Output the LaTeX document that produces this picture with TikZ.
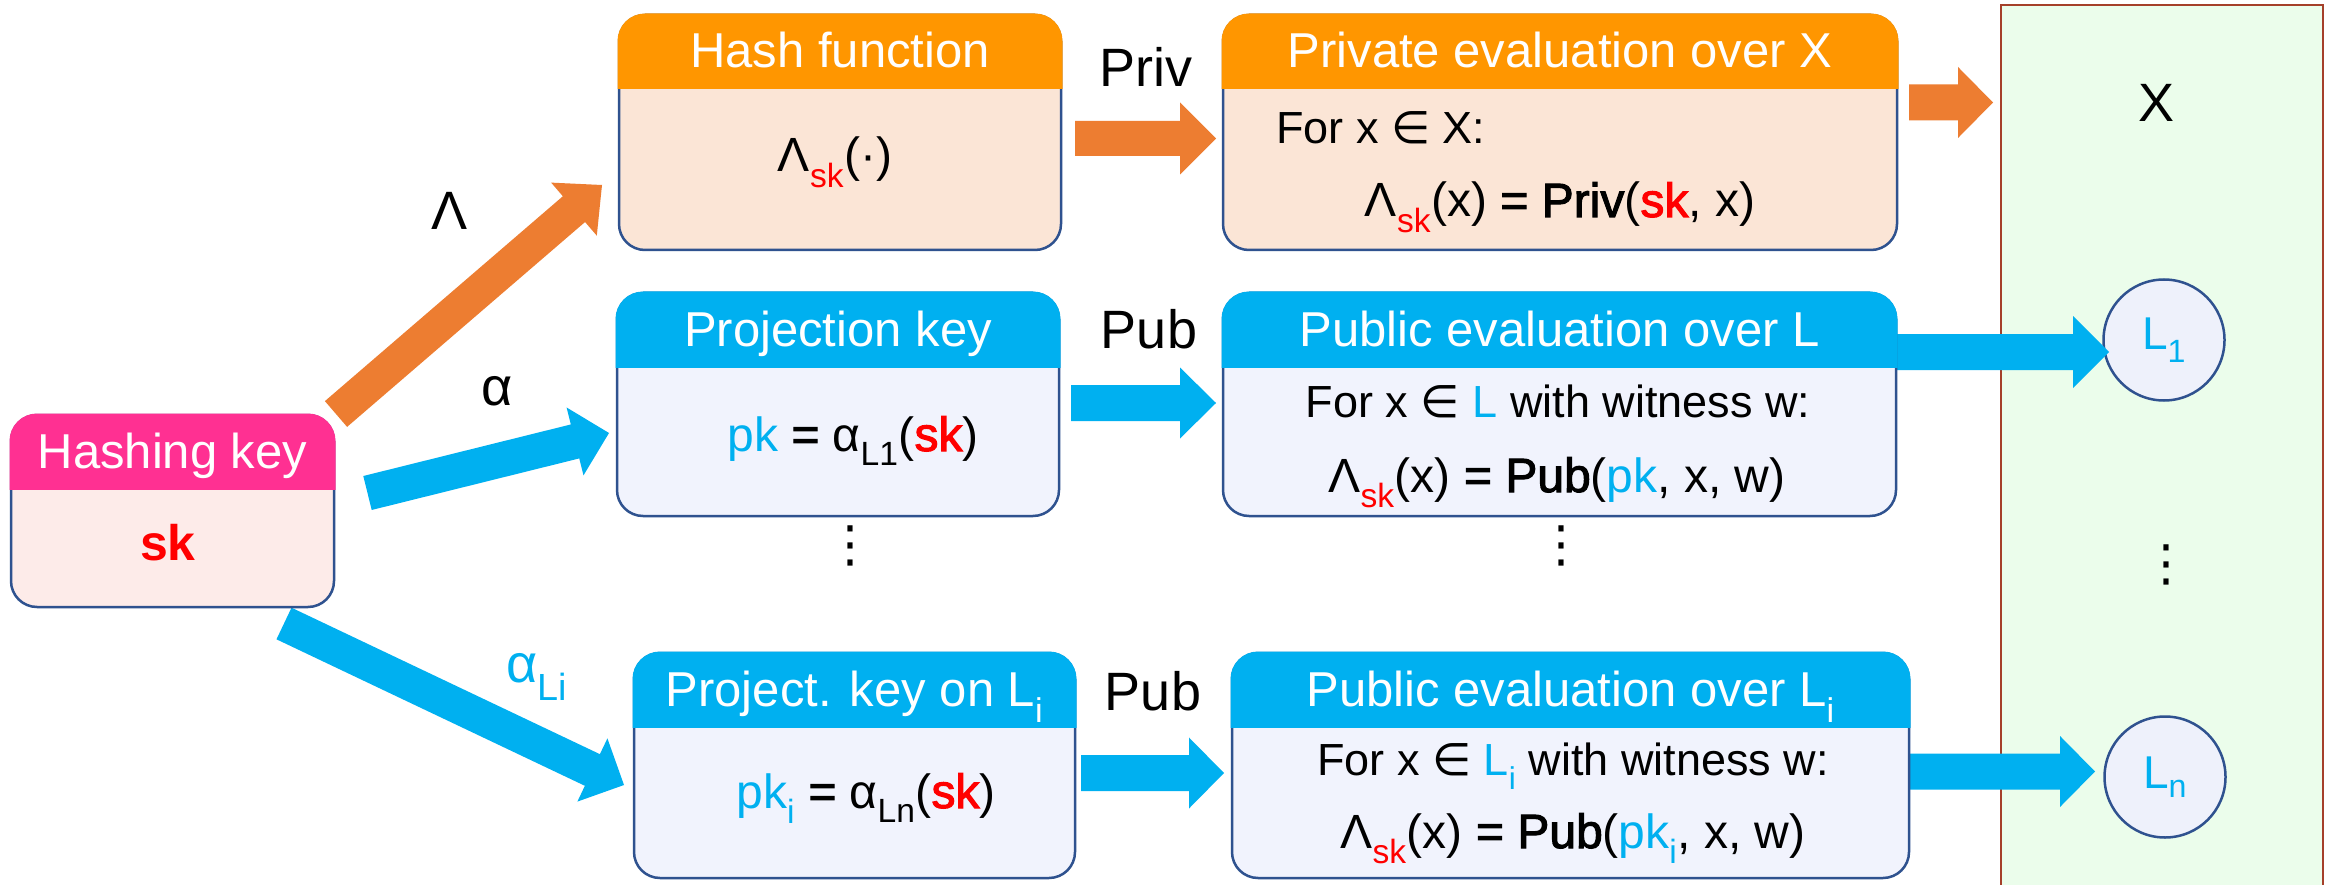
\documentclass[tikz,border=0pt]{standalone}
\usepackage{fontspec}
\setmainfont{Liberation Sans}
\newfontfamily\semib{Liberation Sans}[FakeBold=2.2]
\newfontfamily\symfont{DejaVu Sans}
\usetikzlibrary{calc}

\definecolor{bordc}{HTML}{2F528F}
\definecolor{pinkh}{HTML}{FF3092}
\definecolor{pinkb}{HTML}{FDEBE9}
\definecolor{orgh}{HTML}{FF9600}
\definecolor{orgb}{HTML}{FBE5D6}
\definecolor{orga}{HTML}{ED7D31}
\definecolor{blueh}{HTML}{00B0F0}
\definecolor{blueb}{HTML}{F1F3FD}
\definecolor{keyred}{HTML}{FF0000}
\definecolor{greenf}{HTML}{EBFDEB}
\definecolor{greenb}{HTML}{A5402A}
\definecolor{circf}{HTML}{EEF1FB}

\newcommand\skr{\textcolor{keyred}{sk}}
\newcommand\skb{{\semib\textcolor{keyred}{sk}}}
\newcommand\pkb{\textcolor{blueh}{pk}}
\newcommand\elem{{\symfont ∈}}
\newcommand\sbs[1]{\textsubscript{#1}}
\newcommand\md[1]{{\semib #1}}

% box with a coloured title band: name, x1, y1, x2, y2, y of band bottom, band colour, body colour, title
\newcommand\card[9]{%
  \node[cardbody, fill=#8, minimum width={#4-#2}, minimum height={#5-#3}] (#1) at ({(#2+#4)/2},{(#3+#5)/2}) {};
  \begin{scope}
    \clip (#2-5,#3-5) rectangle (#4+5,#6);
    \fill[#7, rounded corners=27.5pt] (#2-1.5,#3-1.5) rectangle (#4+1.5,#6+60);
  \end{scope}
  \node[hdr] (#1-title) at ({(#2+#4)/2},{(#3+#6)/2+16}) {#9};}

% wide block arrow: start, tip, half shaft, half head, head length, colour
\newcommand\blockarrow[6]{%
  \coordinate (ab) at ($(#2)!#5!(#1)$);
  \fill[#6] ($(#1)!#3!90:(#2)$) -- ($(ab)!#3!90:(#2)$) -- ($(ab)!#4!90:(#2)$) -- (#2)
    -- ($(ab)!#4!-90:(#2)$) -- ($(ab)!#3!-90:(#2)$) -- ($(#1)!#3!-90:(#2)$) -- cycle;}

\tikzset{
  cardbody/.style={rectangle, draw=bordc, line width=2.5pt, rounded corners=26pt, inner sep=0pt},
  hdr/.style={anchor=base, inner sep=0pt, text=white, font=\fontsize{49}{59}\selectfont},
  formula/.style={anchor=base, inner sep=0pt, font=\fontsize{48}{58}\selectfont},
  condtxt/.style={anchor=base, inner sep=0pt, font=\fontsize{45}{54}\selectfont},
  lbl/.style={anchor=base, inner sep=0pt, font=\fontsize{54}{64}\selectfont},
  vdots/.style={inner sep=0pt, font=\symfont\fontsize{50}{50}\selectfont},
  setnode/.style={circle, draw=bordc, fill=circf, line width=2.5pt, minimum size=121pt, inner sep=0pt,
    text=blueh, font=\fontsize{46}{55}\selectfont}
}

\begin{document}
\begin{tikzpicture}[x=1pt,y=-1pt]
\useasboundingbox[fill=white] (0,0) rectangle (2326,885);

% the set X with its languages
\node[draw=greenb, fill=greenf, line width=2pt, minimum width=322pt, minimum height=900pt, inner sep=0pt]
  (xset) at (2162,455) {};
\node[lbl] (xlabel) at (2156,122) {X};
\node[setnode] (l1) at (2164,340) {L\sbs{1}};
\node[setnode] (ln) at (2165,777) {L\sbs{n}};
\node[vdots] (dx) at (2166,565) {⋮};

% arrow end points
\coordinate (hk-a) at (336,414);   \coordinate (hf-in) at (602,185);
\coordinate (hk-b) at (367.5,493); \coordinate (pk-in) at (609,433);
\coordinate (hk-c) at (284,623.5); \coordinate (pki-in) at (624,785);
\coordinate (hf-out) at (1075,138.5); \coordinate (pe-in) at (1216,138.5);
\coordinate (pe-out) at (1909,102.5); \coordinate (x-in) at (1993,102.5);
\coordinate (pk-out) at (1071,403);   \coordinate (pu-in) at (1216,403);
\coordinate (pu-out) at (1897,352);   \coordinate (l1-in) at (2109,352);
\coordinate (pki-out) at (1081,773);  \coordinate (pui-in) at (1224,773);
\coordinate (pui-out) at (1902,771.5); \coordinate (ln-in) at (2095,771.5);

\blockarrow{hk-a}{hf-in}{17pt}{35pt}{37pt}{orga}
\blockarrow{hk-b}{pk-in}{17.5pt}{35pt}{35pt}{blueh}
\blockarrow{hk-c}{pki-in}{17.5pt}{35pt}{35pt}{blueh}
\blockarrow{hf-out}{pe-in}{17.5pt}{36pt}{36pt}{orga}
\blockarrow{pe-out}{x-in}{18pt}{35.5pt}{35pt}{orga}
\blockarrow{pk-out}{pu-in}{18pt}{35.5pt}{36pt}{blueh}
\blockarrow{pu-out}{l1-in}{18pt}{36pt}{36pt}{blueh}
\blockarrow{pki-out}{pui-in}{18pt}{35.5pt}{35pt}{blueh}
\blockarrow{pui-out}{ln-in}{18pt}{35.5pt}{35pt}{blueh}

% arrow labels
\node[lbl] (lam) at (450,230) {Λ};
\node[lbl] (alp) at (497,405) {α};
\node[lbl, text=blueh] (alpi) at (537,682) {α\sbs{Li}};
\node[lbl] (priv) at (1146,87) {Priv};
\node[lbl] (pub1) at (1149,348) {Pub};
\node[lbl] (pub2) at (1153,710) {Pub};

% boxes
\card{hk}{11}{415}{334}{607}{489}{pinkh}{pinkb}{Hashing key}
\card{hf}{619}{15}{1061}{250}{89}{orgh}{orgb}{Hash function}
\card{pe}{1223}{15}{1897}{250}{89}{orgh}{orgb}{Private evaluation over X}
\card{pk}{617}{293}{1059}{516}{367}{blueh}{blueb}{Projection key}
\card{pu}{1223}{293}{1896}{516}{367}{blueh}{blueb}{Public evaluation over L}
\card{pki}{634}{653}{1075}{878}{727}{blueh}{blueb}{Project. key on L\sbs{i}}
\card{pui}{1232}{653}{1909}{878}{727}{blueh}{blueb}{Public evaluation over L\sbs{i}}

% box contents
\node[formula, font=\fontsize{50}{60}\selectfont\bfseries, text=keyred] (hk-sk) at (168,560) {sk};
\node[formula] (hf-f) at (835,172) {Λ\sbs{\skr}(·)};
\node[condtxt, anchor=base west] (pe-c) at (1276,144) {For x \elem{} X:};
\node[formula] (pe-f) at (1560,217) {Λ\sbs{\skr}(x) \md{= Priv}(\skb, x)};
\node[formula] (pk-f) at (853,451) {\pkb{} \md{=} α\sbs{L1}(\skb)};
\node[condtxt] (pu-c) at (1558,417) {For x \elem{} \textcolor{blueh}{L} with witness w:};
\node[formula] (pu-f) at (1557,492) {Λ\sbs{\skr}(x) \md{= Pub}(\pkb, x, w)};
\node[formula] (pki-f) at (866,808) {\pkb\textcolor{blueh}{\sbs{i}} \md{=} α\sbs{Ln}(\skb)};
\node[condtxt] (pui-c) at (1573,775) {For x \elem{} \textcolor{blueh}{L\sbs{i}} with witness w:};
\node[formula] (pui-f) at (1573,848) {Λ\sbs{\skr}(x) \md{= Pub}(\pkb\textcolor{blueh}{\sbs{i}}, x, w)};

% continuation marks
\node[vdots] (dk) at (850,546) {⋮};
\node[vdots] (de) at (1561,546) {⋮};
\end{tikzpicture}
\end{document}
